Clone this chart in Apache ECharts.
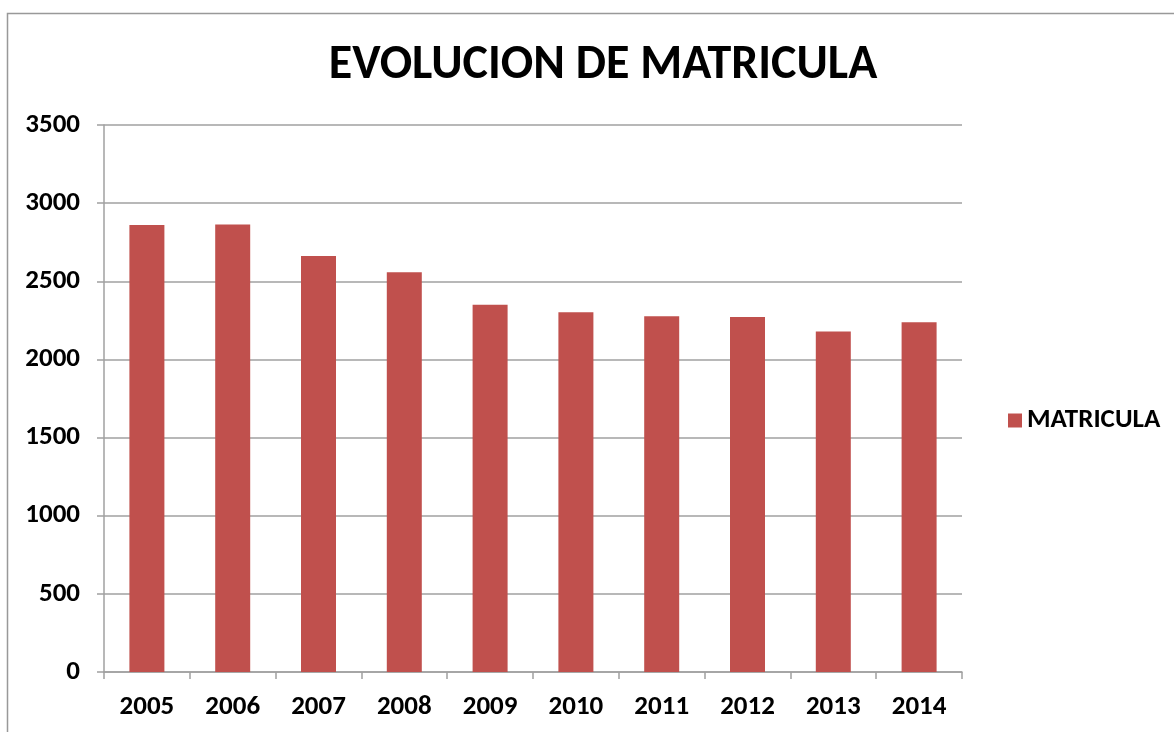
<!DOCTYPE html>
<html>
<head>
<meta charset="utf-8">
<title>EVOLUCION DE MATRICULA</title>
<script src="https://cdn.jsdelivr.net/npm/echarts@6/dist/echarts.min.js"></script>
<style>
  html, body { margin: 0; padding: 0; background: #fff; }
  #main { width: 1174px; height: 732px; }
</style>
</head>
<body>
<div id="main"></div>
<script>
// datos
var years = ['2005', '2006', '2007', '2008', '2009', '2010', '2011', '2012', '2013', '2014'];
var matricula = [2860, 2863, 2662, 2558, 2350, 2302, 2276, 2272, 2178, 2238];
var yTicks = [0, 500, 1000, 1500, 2000, 2500, 3000, 3500];

var FONT = 'Carlito, Lato, "Open Sans", sans-serif';
var GRIS = '#a0a0a0';

var myChart = echarts.init(document.getElementById('main'));

var option = {
    backgroundColor: '#fff',
    animation: false,
    title: {
        text: 'EVOLUCION DE MATRICULA',
        left: 598,
        textAlign: 'center',
        top: 37,
        textStyle: { fontFamily: FONT, fontWeight: 'bold', fontSize: 48, color: '#000' }
    },
    legend: {
        orient: 'vertical',
        left: 1003,
        top: 402,
        itemWidth: 14,
        itemHeight: 14,
        itemGap: 8,
        icon: 'rect',
        textStyle: { fontFamily: FONT, fontWeight: 'bold', fontSize: 27, color: '#000' },
        data: ['MATRICULA']
    },
    graphic: [{
        type: 'rect',
        shape: { x: 7.5, y: 13.5, width: 1200, height: 800 },
        style: { fill: 'none', stroke: '#999', lineWidth: 1.5 },
        silent: true
    }],
    grid: {
        left: 104,
        right: 212,
        top: 125,
        bottom: 60,
        outerBoundsMode: 'none'
    },
    xAxis: {
        type: 'category',
        data: years,
        axisLine: { lineStyle: { color: GRIS, width: 1.5 } },
        axisTick: { show: true, length: 7, alignWithLabel: false, lineStyle: { color: GRIS, width: 1.5 } },
        axisLabel: { margin: 22, fontFamily: FONT, fontWeight: 'bold', fontSize: 27, color: '#000' }
    },
    yAxis: {
        type: 'value',
        min: yTicks[0],
        max: yTicks[yTicks.length - 1],
        interval: 500,
        axisLine: { show: true, lineStyle: { color: GRIS, width: 1.5 } },
        axisTick: { show: true, length: 7, lineStyle: { color: GRIS, width: 1.5 } },
        splitLine: { lineStyle: { color: GRIS, width: 1.5 } },
        axisLabel: {
            margin: 24, fontFamily: FONT, fontWeight: 'bold', fontSize: 27, color: '#000',
            formatter: function (v) { return String(v); }
        }
    },
    series: [{
        name: 'MATRICULA',
        type: 'bar',
        data: matricula,
        barWidth: 35,
        itemStyle: { color: '#c0504d' }
    }]
};

myChart.setOption(option);
</script>
</body>
</html>
